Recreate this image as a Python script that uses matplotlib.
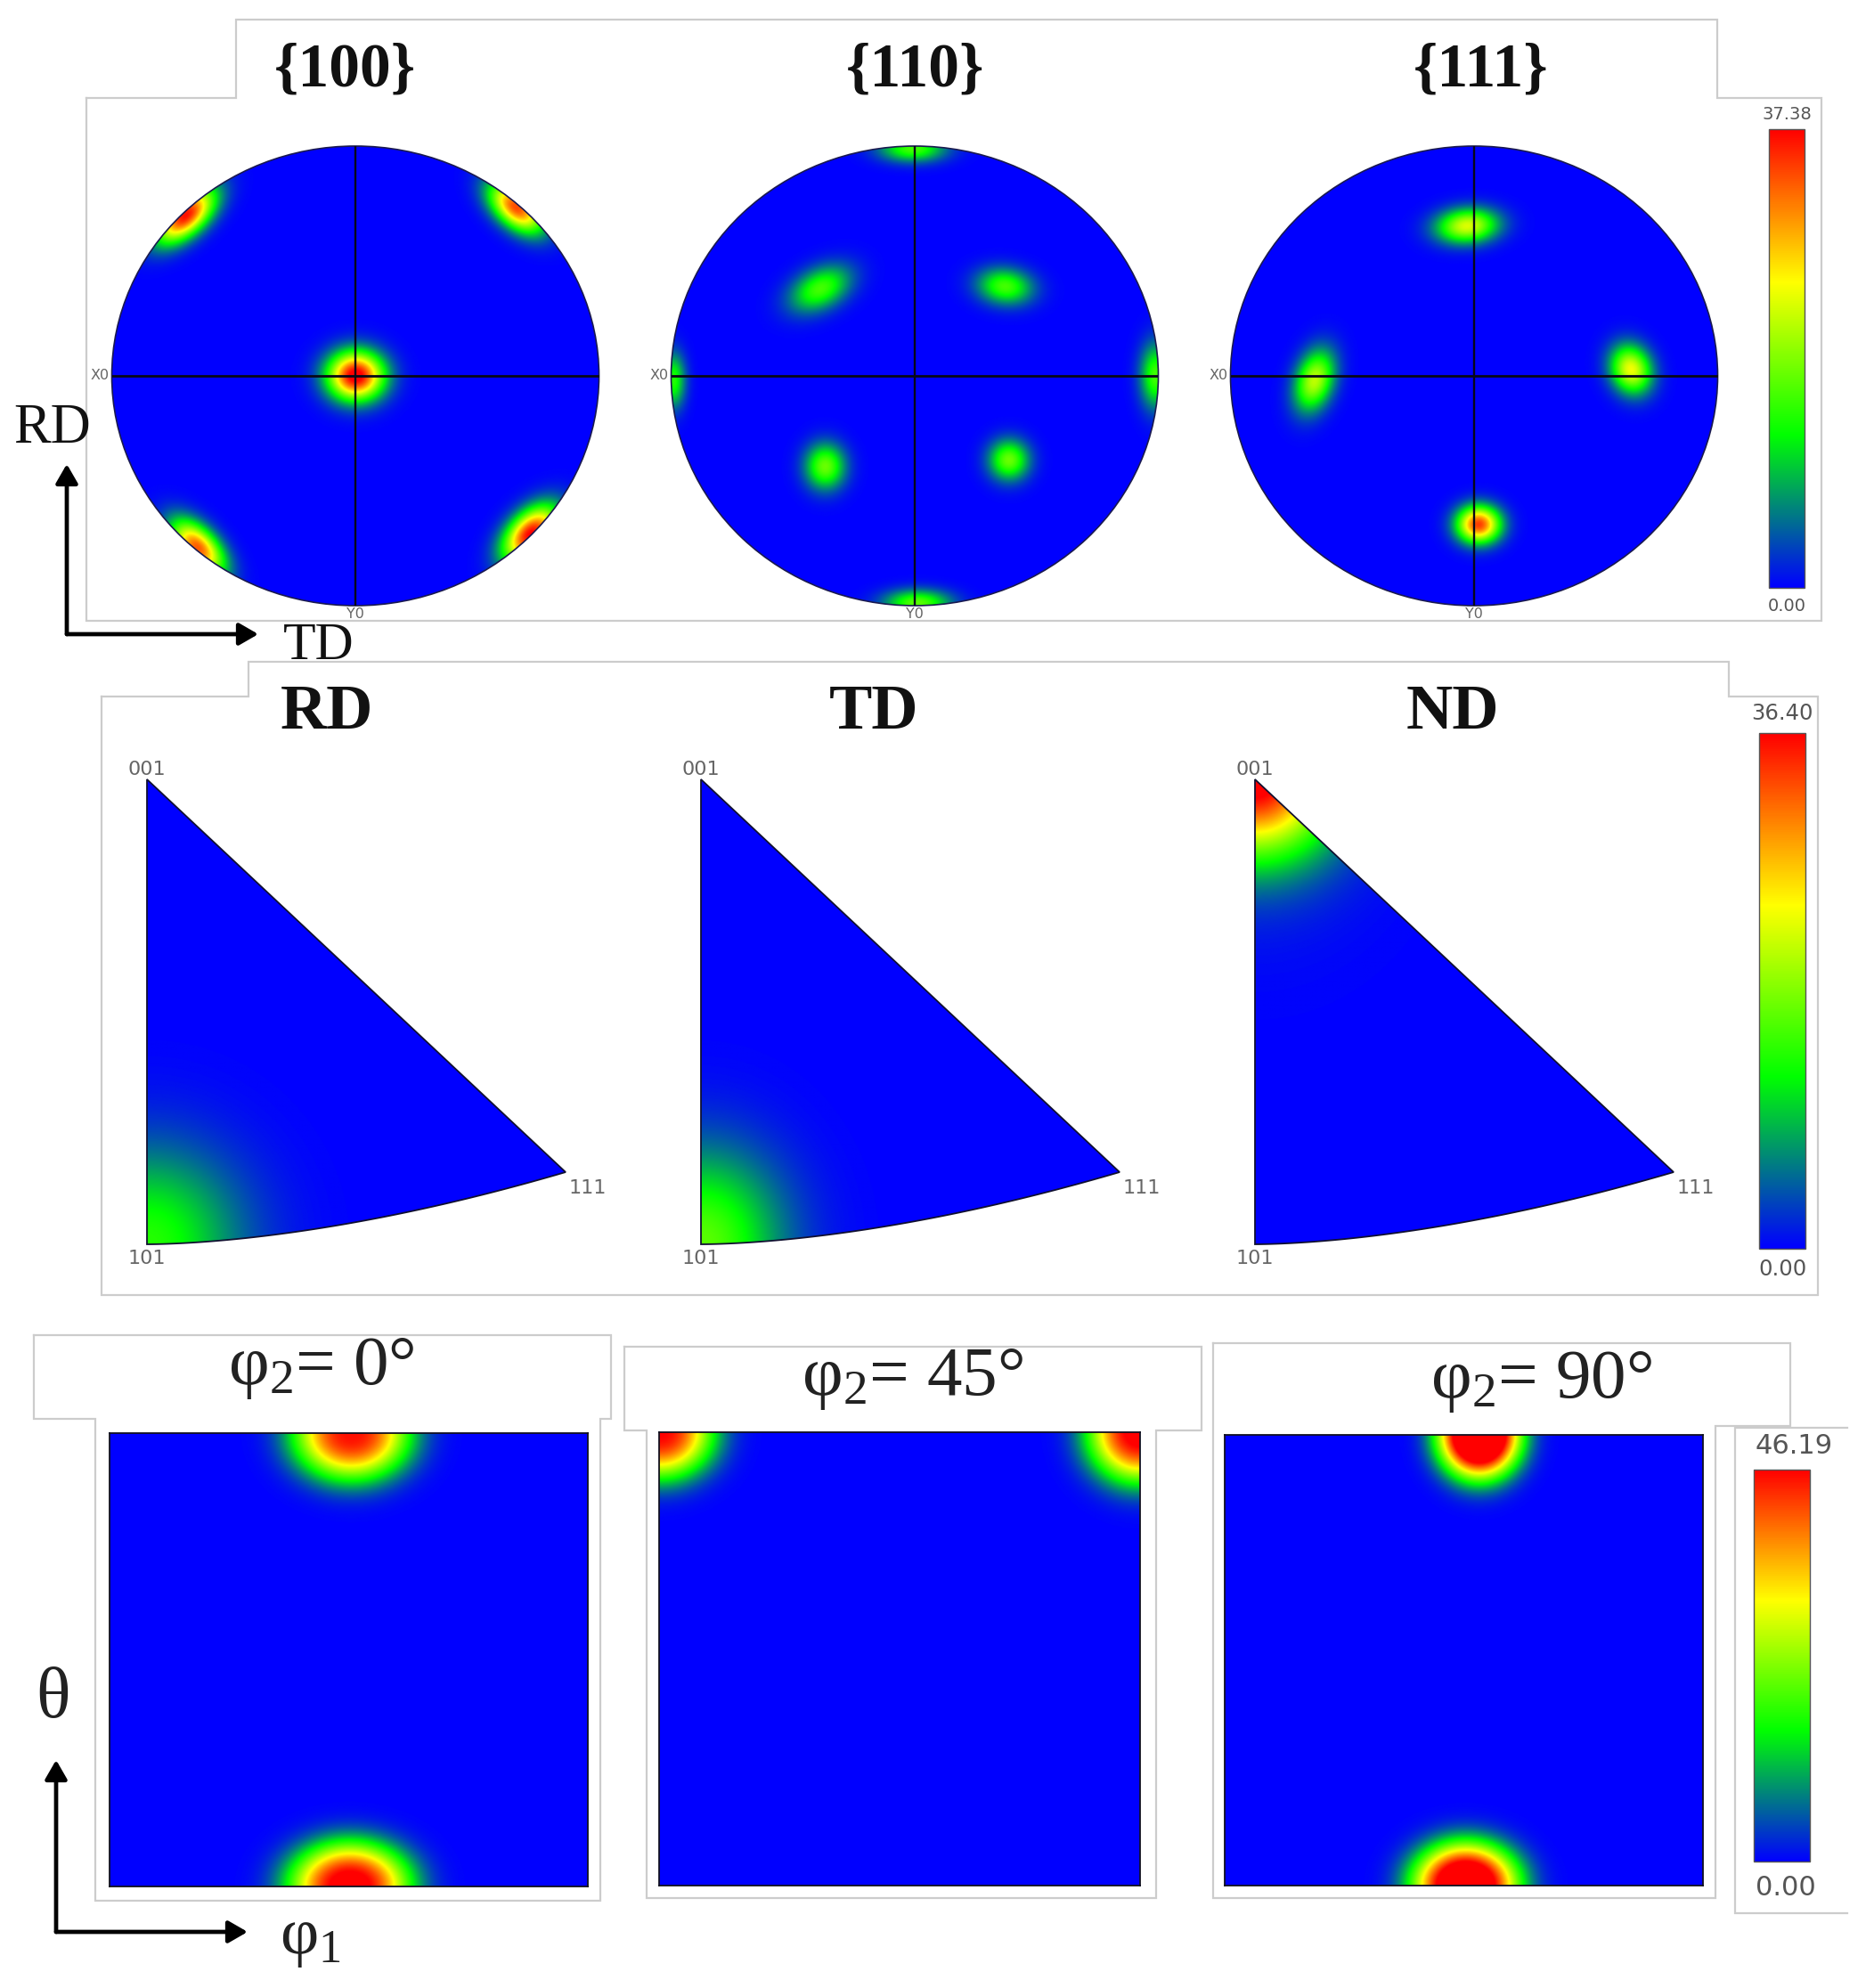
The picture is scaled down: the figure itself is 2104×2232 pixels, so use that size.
import numpy as np
import matplotlib
matplotlib.use('Agg')
import matplotlib.pyplot as plt
from matplotlib.colors import LinearSegmentedColormap, Normalize
from matplotlib.cm import ScalarMappable
from matplotlib.patches import Circle, Polygon

plt.rcParams['font.family'] = ['Liberation Serif', 'DejaVu Serif']
plt.rcParams['mathtext.fontset'] = 'custom'
plt.rcParams['mathtext.rm'] = 'Liberation Serif'
plt.rcParams['mathtext.default'] = 'rm'

W, H = 2104, 2232

################## data #################
# texture peaks: x, y, sigma along axis, sigma across, axis angle (deg), level (fraction of colour scale)
pf_titles = ['{100}', '{110}', '{111}']
pf_max = 37.38
pf_100 = [[0.0, 0.0, 0.080, 0.074, 0, 1.05],
          [-0.70, 0.70, 0.105, 0.055, 45, 0.98],
          [0.66, 0.735, 0.095, 0.055, -45, 0.90],
          [-0.65, -0.75, 0.100, 0.055, -50, 0.88],
          [0.72, -0.69, 0.100, 0.060, 50, 1.00]]
pf_110 = [[-0.01, 0.99, 0.095, 0.040, 0, 0.42],
          [0.01, -0.99, 0.095, 0.040, 0, 0.45],
          [-0.39, 0.38, 0.095, 0.060, 31, 0.42],
          [0.37, 0.39, 0.080, 0.055, -8, 0.42],
          [-0.37, -0.395, 0.070, 0.058, 90, 0.47],
          [0.386, -0.367, 0.062, 0.058, 90, 0.47],
          [0.99, 0.0, 0.100, 0.045, 90, 0.42],
          [-0.995, -0.02, 0.085, 0.035, 90, 0.38]]
pf_111 = [[-0.03, 0.654, 0.088, 0.052, 5, 0.62],
          [-0.658, -0.02, 0.095, 0.054, 75, 0.58],
          [0.644, 0.028, 0.075, 0.058, 105, 0.65],
          [0.017, -0.648, 0.062, 0.056, 0, 0.92]]
pf_peaks = [pf_100, pf_110, pf_111]

ipf_titles = ['RD', 'TD', 'ND']
ipf_max = 36.40
ipf_rd = [[0.0, 0.0, 0.16, 0.145, 0, 0.38]]
ipf_td = [[0.0, 0.0, 0.138, 0.142, 0, 0.45]]
ipf_nd = [[0.0, 1.0, 0.13, 0.115, 0, 1.00],
          [0.0, 0.95, 0.20, 0.20, 0, 0.06]]
ipf_peaks = [ipf_rd, ipf_td, ipf_nd]

odf_titles = ['φ$_2$= 0°', 'φ$_2$= 45°', 'φ$_2$= 90°']
odf_max = 46.19
odf_0 = [[0.506, 0.0, 0.085, 0.072, 0, 0.98],
         [0.5025, 1.0, 0.088, 0.068, 0, 1.06]]
odf_45 = [[0.0, 0.0, 0.078, 0.072, 0, 1.00],
          [1.0, 0.0, 0.075, 0.078, 0, 1.04]]
odf_90 = [[0.5325, 0.0, 0.060, 0.068, 0, 1.40],
          [0.504, 1.0, 0.077, 0.066, 0, 1.25]]
odf_peaks = [odf_0, odf_45, odf_90]

colours = ['#0000ff', '#00ff00', '#ffff00', '#ff0000']
cmap = LinearSegmentedColormap.from_list('tex', colours)

fig = plt.figure(figsize=(W/100, H/100), dpi=100)


def px_axes(x0, y0, x1, y1):
    # axes from picture pixels
    a = fig.add_axes([x0/W, 1-y1/H, (x1-x0)/W, (y1-y0)/H])
    a.set_axis_off()
    return a


def density(peaks, xx, yy, vmax, q=1.0):
    z = np.zeros_like(xx)
    for x, y, s1, s2, ang, level in peaks:
        t = np.radians(ang)
        a = (xx-x)*np.cos(t) + (yy-y)*np.sin(t)
        b = -(xx-x)*np.sin(t) + (yy-y)*np.cos(t)
        z += level*vmax*np.exp(-((a/s1)**2/2 + (b/s2)**2/2)**q)
    return z


def colorbar(box, vmax):
    cax = px_axes(*box)
    cb = fig.colorbar(ScalarMappable(Normalize(0, vmax), cmap), cax=cax)
    cb.set_ticks([])
    cb.outline.set_edgecolor('#555555')
    cb.outline.set_linewidth(1)
    cax.set_axis_on()
    return cb


################## pole figures #################
pf_cx = [399, 1027, 1655]
pf_cy, pf_rx, pf_ry = 422, 273.5, 258
g = np.linspace(-1, 1, 500)
xx, yy = np.meshgrid(g, g)
for i in range(3):
    ax = px_axes(pf_cx[i]-pf_rx, pf_cy-pf_ry, pf_cx[i]+pf_rx, pf_cy+pf_ry)
    ax.set_xlim(-1, 1)
    ax.set_ylim(-1, 1)
    im = ax.imshow(density(pf_peaks[i], xx, yy, pf_max), extent=(-1, 1, -1, 1), origin='lower',
                   cmap=cmap, vmin=0, vmax=pf_max, aspect='auto', interpolation='bilinear')
    c = Circle((0, 0), 1, transform=ax.transData, fc='none', ec='#1a1a50', lw=1.2, clip_on=False)
    ax.add_patch(c)
    im.set_clip_path(c)
    ax.plot([-1, 1], [0, 0], color='#080818', lw=2.0)
    ax.plot([0, 0], [-1, 1], color='#080818', lw=1.7)

################## inverse pole figures #################
ipf_x0 = [165, 787, 1409]
ipf_top, ipf_bot, ipf_w = 875, 1397, 470
v111 = 81/522
u = np.linspace(0, 1, 80)
g = np.linspace(0, 1, 500)
xx, yy = np.meshgrid(g, g)
for i in range(3):
    ax = px_axes(ipf_x0[i], ipf_top, ipf_x0[i]+ipf_w, ipf_bot)
    ax.set_xlim(0, 1)
    ax.set_ylim(0, 1)
    im = ax.imshow(density(ipf_peaks[i], xx, yy, ipf_max), extent=(0, 1, 0, 1), origin='lower',
                   cmap=cmap, vmin=0, vmax=ipf_max, aspect='auto', interpolation='bilinear')
    edge = np.vstack([np.c_[u, v111*u**1.7], [[0, 1]]])
    p = Polygon(edge, closed=True, transform=ax.transData, fc='none', ec='#101030', lw=1.3, clip_on=False)
    ax.add_patch(p)
    im.set_clip_path(p)

################## ODF sections #################
odf_boxes = [(123, 1609, 660, 2118), (740, 1608, 1280, 2117), (1375, 1611, 1912, 2117)]
for i in range(3):
    ax = px_axes(*odf_boxes[i])
    ax.imshow(density(odf_peaks[i], xx, yy, odf_max, q=1.3), extent=(0, 1, 1, 0), origin='upper',
              cmap=cmap, vmin=0, vmax=odf_max, aspect='auto', interpolation='bilinear')
    ax.set_axis_on()
    ax.set_xticks([])
    ax.set_yticks([])
    for s in ax.spines.values():
        s.set_color('#101020')
        s.set_linewidth(1.3)

colorbar((1986, 145, 2026, 660), pf_max)
colorbar((1975, 823, 2027, 1402), ipf_max)
colorbar((1969, 1650, 2032, 2090), odf_max)

################## frames, text, arrows on top #################
top = fig.add_axes([0, 0, 1, 1], zorder=10)
top.set_xlim(0, W)
top.set_ylim(H, 0)
top.set_axis_off()
top.patch.set_alpha(0)

frames = [
    [(97, 110), (265, 110), (265, 22), (1928, 22), (1928, 110), (2045, 110), (2045, 697), (97, 697), (97, 110)],
    [(114, 782), (279, 782), (279, 743), (1941, 743), (1941, 782), (2041, 782), (2041, 1454), (114, 1454), (114, 782)],
    [(38, 1499), (686, 1499), (686, 1593), (674, 1593), (674, 2134), (107, 2134), (107, 1593), (38, 1593), (38, 1499)],
    [(701, 1512), (1349, 1512), (1349, 1606), (1298, 1606), (1298, 2131), (726, 2131), (726, 1606), (701, 1606), (701, 1512)],
    [(1362, 1508), (2010, 1508), (2010, 1601), (1926, 1601), (1926, 2131), (1362, 2131), (1362, 1508)],
    [(2074, 1603), (1948, 1603), (1948, 2148), (2074, 2148)],
]
for f in frames:
    top.plot([q[0] for q in f], [q[1] for q in f], color='#cccccc', lw=1.6, solid_joinstyle='miter')

for i, xc in enumerate([387, 1027, 1663]):
    top.text(xc, 80, pf_titles[i], ha='center', va='center', fontsize=50, fontweight='bold', color='#111111')
for i, xc in enumerate([367, 981, 1631]):
    top.text(xc, 800, ipf_titles[i], ha='center', va='center', fontsize=52, fontweight='bold', color='#111111')
odf_tx = [361, 1025, 1731]
odf_ty = [1554, 1566, 1569]
for i in range(3):
    top.text(odf_tx[i], odf_ty[i], odf_titles[i], ha='center', va='baseline', fontsize=57, color='#222222')

grey = '#666666'
sans = 'DejaVu Sans'
for i in range(3):
    top.text(pf_cx[i]-287, pf_cy, 'X0', ha='center', va='center', fontsize=11.5, color=grey, family=sans)
    top.text(pf_cx[i], 689, 'Y0', ha='center', va='center', fontsize=11.5, color=grey, family=sans)
    top.text(ipf_x0[i], 864, '001', ha='center', va='center', fontsize=16, color=grey, family=sans)
    top.text(ipf_x0[i], 1413, '101', ha='center', va='center', fontsize=16, color=grey, family=sans)
    top.text(ipf_x0[i]+495, 1334, '111', ha='center', va='center', fontsize=16, color=grey, family=sans)

bar_labels = [(2006, 128, '37.38', 14), (2006, 680, '0.00', 14),
              (2001, 801, '36.40', 17.5), (2001, 1425, '0.00', 17.5),
              (2014, 1623, '46.19', 22), (2005, 2120, '0.00', 22)]
for x, y, s, fs in bar_labels:
    top.text(x, y, s, ha='center', va='center', fontsize=fs, color='#555555', family=sans)


def arrow(x0, y0, x1, y1):
    top.annotate('', xy=(x1, y1), xytext=(x0, y0),
                 arrowprops=dict(arrowstyle='-|>,head_length=1.3,head_width=0.75', color='black', lw=3.4,
                                 shrinkA=0, shrinkB=0))


arrow(75, 712, 75, 521)
arrow(75, 712, 290, 712)
arrow(63, 2169, 63, 1976)
arrow(63, 2169, 278, 2169)
top.text(59, 497, 'RD', ha='center', va='baseline', fontsize=45, color='#111111')
top.text(358, 740, 'TD', ha='center', va='baseline', fontsize=43, color='#111111')
top.text(60, 1928, 'θ', ha='center', va='baseline', fontsize=58, color='#222222')
top.text(349, 2193, 'φ$_1$', ha='center', va='baseline', fontsize=54, color='#222222')

fig.savefig('out.png', dpi=100, facecolor='white')
